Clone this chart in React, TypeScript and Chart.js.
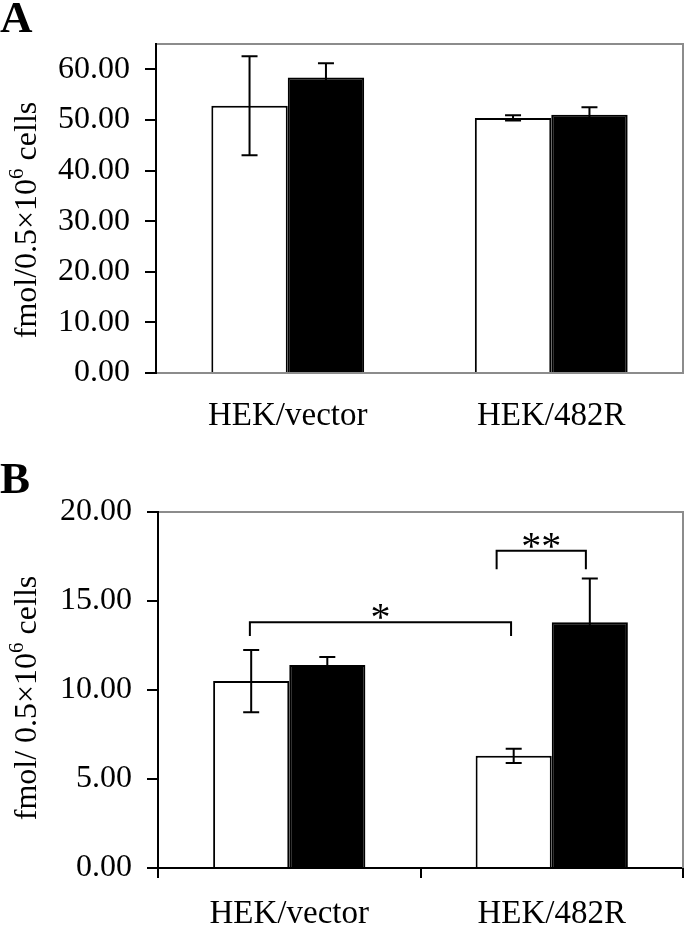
import React, { useEffect, useRef } from 'react';
import { Chart, registerables } from 'chart.js';

Chart.register(...registerables);

// ---------- data ----------
const categories = ['HEK/vector', 'HEK/482R'];

const aWhite = [52.8, 50.4];
const aWhiteErr = [9.8, 0.5];
const aBlack = [58.4, 51.0];
const aBlackErr = [2.8, 1.5];
const aTicks = [0, 10, 20, 30, 40, 50, 60];

const bWhite = [10.5, 6.3];
const bWhiteErr = [1.75, 0.4];
const bBlack = [11.4, 13.8];
const bBlackErr = [0.45, 2.47];
const bTicks = [0, 5, 10, 15, 20];

// significance brackets (x in category units, y in data units)
const bracketFrom = [-0.15, 0.79];
const bracketTo = [0.845, 1.13];
const bracketTop = [13.8, 17.83];
const bracketFoot = [13.03, 16.78];
const bracketLabel = ['*', '**'];

// ---------- style ----------
const FONT = "'Liberation Serif', 'Times New Roman', Times, serif";
const GRAY = '#8c8c8c';

Chart.defaults.font.family = FONT;
Chart.defaults.color = '#000';

const errorBars = {
  id: 'errorBars',
  afterDatasetsDraw(chart: any) {
    const ctx = chart.ctx;
    const ys = chart.scales.y;
    chart.data.datasets.forEach((ds: any, i: number) => {
      const errs = ds.errors as number[] | undefined;
      if (!errs) return;
      const meta = chart.getDatasetMeta(i);
      meta.data.forEach((el: any, j: number) => {
        const v = ds.data[j] as number;
        const e = errs[j];
        const x = el.x;
        const yt = ys.getPixelForValue(v + e);
        const yb = ys.getPixelForValue(v - e);
        ctx.save();
        ctx.strokeStyle = '#000';
        ctx.lineWidth = 2;
        ctx.beginPath();
        ctx.moveTo(x, yt);
        ctx.lineTo(x, yb);
        ctx.moveTo(x - 8, yt);
        ctx.lineTo(x + 8, yt);
        ctx.moveTo(x - 8, yb);
        ctx.lineTo(x + 8, yb);
        ctx.stroke();
        ctx.restore();
      });
    });
  },
};

const frame = {
  id: 'frame',
  afterDraw(chart: any) {
    const { left, top, right, bottom } = chart.chartArea;
    const ctx = chart.ctx;
    ctx.save();
    ctx.strokeStyle = GRAY;
    ctx.lineWidth = 2;
    ctx.beginPath();
    ctx.moveTo(left + 1, top);
    ctx.lineTo(right, top);
    ctx.lineTo(right, bottom);
    ctx.stroke();
    ctx.restore();
  },
};

function panelText(letter: string, letterY: number, main: string, sup: string, rest: string, titleX: number, titleY: number) {
  return {
    id: 'panelText',
    afterDraw(chart: any) {
      const ctx = chart.ctx;
      ctx.save();
      ctx.fillStyle = '#000';
      ctx.textAlign = 'left';
      ctx.textBaseline = 'alphabetic';
      ctx.font = `bold 45px ${FONT}`;
      ctx.fillText(letter, 0, letterY);

      const size = 32;
      const supSize = 21;
      const mainFont = `${size}px ${FONT}`;
      const supFont = `${supSize}px ${FONT}`;
      ctx.font = mainFont;
      const w1 = ctx.measureText(main).width;
      const w3 = ctx.measureText(rest).width;
      ctx.font = supFont;
      const w2 = ctx.measureText(sup).width;
      const total = w1 + w2 + w3;
      ctx.translate(titleX, titleY);
      ctx.rotate(-Math.PI / 2);
      let x = -total / 2;
      ctx.font = mainFont;
      ctx.fillText(main, x, 0);
      x += w1;
      ctx.font = supFont;
      ctx.fillText(sup, x, -13);
      x += w2;
      ctx.font = mainFont;
      ctx.fillText(rest, x, 0);
      ctx.restore();
    },
  };
}

const brackets = {
  id: 'brackets',
  afterDraw(chart: any) {
    const ctx = chart.ctx;
    const xs = chart.scales.x;
    const ys = chart.scales.y;
    ctx.save();
    ctx.strokeStyle = '#000';
    ctx.fillStyle = '#000';
    ctx.lineWidth = 2;
    ctx.font = `40px ${FONT}`;
    ctx.textAlign = 'center';
    ctx.textBaseline = 'alphabetic';
    for (let k = 0; k < bracketLabel.length; k++) {
      const x1 = xs.getPixelForValue(bracketFrom[k]);
      const x2 = xs.getPixelForValue(bracketTo[k]);
      const yt = ys.getPixelForValue(bracketTop[k]);
      const yf = ys.getPixelForValue(bracketFoot[k]);
      ctx.beginPath();
      ctx.moveTo(x1, yf);
      ctx.lineTo(x1, yt);
      ctx.lineTo(x2, yt);
      ctx.lineTo(x2, yf);
      ctx.stroke();
      ctx.fillText(bracketLabel[k], (x1 + x2) / 2, yt + 8);
    }
    ctx.restore();
  },
};

function makeConfig(p: {
  white: number[]; whiteErr: number[]; black: number[]; blackErr: number[];
  ticks: number[]; max: number; padTop: number; yWidth: number; xHeight: number;
  xGray: boolean; xTicks: boolean; xPad: number; extra: any[];
}): any {
  return {
    type: 'bar',
    data: {
      labels: categories,
      datasets: [
        { data: p.white, errors: p.whiteErr, backgroundColor: '#ffffff', borderColor: '#000', borderWidth: 2 },
        { data: p.black, errors: p.blackErr, backgroundColor: '#000000', borderColor: '#000', borderWidth: 2 },
      ],
    },
    options: {
      animation: false,
      responsive: false,
      events: [],
      layout: { padding: { top: p.padTop, right: 2, left: 0, bottom: 0 } },
      plugins: { legend: { display: false }, tooltip: { enabled: false }, title: { display: false } },
      datasets: { bar: { categoryPercentage: 0.58, barPercentage: 1 } },
      scales: {
        x: {
          grid: { display: true, drawOnChartArea: false, drawTicks: p.xTicks, tickLength: 10, color: '#000', lineWidth: 2 },
          border: { color: p.xGray ? GRAY : '#000', width: 2 },
          ticks: { color: '#000', font: { family: FONT, size: 33 }, padding: p.xPad, maxRotation: 0 },
          afterFit: (s: any) => { s.height = p.xHeight; },
        },
        y: {
          min: 0,
          max: p.max,
          afterBuildTicks: (s: any) => { s.ticks = p.ticks.map((v) => ({ value: v })); },
          grid: { drawOnChartArea: false, color: '#000', lineWidth: 2, tickLength: 11 },
          border: { color: '#000', width: 2 },
          ticks: { color: '#000', font: { family: FONT, size: 32 }, padding: 15, callback: (v: any) => Number(v).toFixed(2) },
          afterFit: (s: any) => { s.width = p.yWidth; },
        },
      },
    },
    plugins: [errorBars, frame, ...p.extra],
  };
}

export default function App() {
  const refA = useRef<HTMLCanvasElement | null>(null);
  const refB = useRef<HTMLCanvasElement | null>(null);

  useEffect(() => {
    document.body.style.margin = '0';
    const chartA = new Chart(refA.current as HTMLCanvasElement, makeConfig({
      white: aWhite, whiteErr: aWhiteErr, black: aBlack, blackErr: aBlackErr,
      ticks: aTicks, max: 65, padTop: 44, yWidth: 156, xHeight: 87,
      xGray: true, xTicks: false, xPad: 24,
      extra: [panelText('A', 32, 'fmol/0.5\u00d710', '6', ' cells', 36, 220)],
    }));
    const chartB = new Chart(refB.current as HTMLCanvasElement, makeConfig({
      white: bWhite, whiteErr: bWhiteErr, black: bBlack, blackErr: bBlackErr,
      ticks: bTicks, max: 20, padTop: 52, yWidth: 158, xHeight: 59,
      xGray: false, xTicks: true, xPad: 17,
      extra: [brackets, panelText('B', 33, 'fmol/ 0.5\u00d710', '6', ' cells', 36, 238)],
    }));
    return () => {
      chartA.destroy();
      chartB.destroy();
    };
  }, []);

  return (
    <div style={{ position: 'absolute', left: 0, top: 0, width: 685, height: 927, background: '#fff' }}>
      <canvas ref={refA} width={685} height={460} style={{ display: 'block', width: 685, height: 460 }} />
      <canvas ref={refB} width={685} height={467} style={{ display: 'block', width: 685, height: 467 }} />
    </div>
  );
}
